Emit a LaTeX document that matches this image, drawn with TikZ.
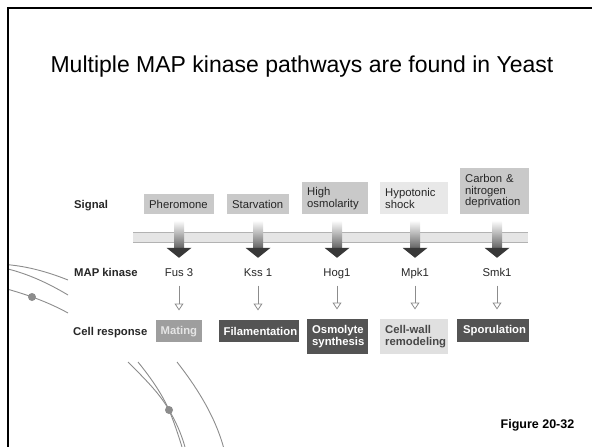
\documentclass[tikz,border=0pt]{standalone}
\usepackage{fontspec}
\setmainfont{Liberation Sans}
\usetikzlibrary{arrows.meta}

\definecolor{txt}{gray}{0.15}
\definecolor{sigfill}{gray}{0.79}
\definecolor{hypfill}{gray}{0.91}
\definecolor{matfill}{gray}{0.62}
\definecolor{mattxt}{gray}{0.90}
\definecolor{darkfill}{gray}{0.33}
\definecolor{wallfill}{gray}{0.88}
\definecolor{walltxt}{gray}{0.28}
\definecolor{bandfill}{gray}{0.90}
\definecolor{bandline}{gray}{0.70}
\definecolor{shaftdark}{gray}{0.40}
\definecolor{headfill}{gray}{0.22}
\definecolor{thinarrow}{gray}{0.55}
\definecolor{arcgray}{gray}{0.55}

\newcommand\dgfont{\fontsize{11.3}{11.8}\selectfont}
\newcommand\dgbold{\fontsize{11.3}{11.8}\selectfont\bfseries}

\begin{document}
\begin{tikzpicture}[x=1pt,y=-1pt,
  box/.style={anchor=north west, inner xsep=5pt, inner ysep=0pt, align=left},
  sig/.style={box, fill=sigfill, text=txt, font=\dgfont},
  sighi/.style={box, fill=hypfill, text=txt, font=\dgfont},
  respmid/.style={box, fill=matfill, text=mattxt, font=\dgbold},
  respdark/.style={box, fill=darkfill, text=white, font=\dgbold},
  resplight/.style={box, fill=wallfill, text=walltxt, font=\dgbold},
  kin/.style={anchor=base, inner sep=0pt, text height=8pt, text depth=2.5pt, text=txt, font=\dgfont},
  rowlabel/.style={anchor=base west, inner sep=0pt, text=txt, font=\dgbold},
  shaft/.style={top color=white, bottom color=shaftdark},
  head/.style={fill=headfill},
  thin arrow/.style={draw=thinarrow, line width=0.8pt,
    -{Triangle[open, length=7pt, width=9pt]}},
  arc/.style={draw=arcgray, line width=0.9pt},
  dot/.style={circle, fill=arcgray, inner sep=0pt, minimum size=8pt}
]
\useasboundingbox (0,0) rectangle (592,447);

% decorative arcs of the slide background
\draw[arc] (8,264.7) .. controls (28,266.5) and (48,272) .. (68,280);
\draw[arc] (8,269) .. controls (28,274) and (48,283) .. (68,295);
\draw[arc] (8,289.3) .. controls (28,295) and (48,302) .. (68,313);
\node[dot] (dotleft) at (32,297) {};
\draw[arc] (128,362) .. controls (146,380) and (160,394) .. (169,410)
                     .. controls (176,422) and (181,433) .. (185,447);
\draw[arc] (138,362) .. controls (151,378) and (162,394) .. (169,410)
                     .. controls (174,422) and (178,434) .. (182,447);
\draw[arc] (177,362) .. controls (195,385) and (215,415) .. (224,449);
\node[dot] (dotlow) at (169,410) {};

% slide frame
\draw[line width=2.5pt, line join=miter] (8,452) -- (8,8) -- (597,8);

% title
\node[anchor=base, inner sep=0pt, font=\fontsize{23}{27}\selectfont] (title) at (302,72)
  {Multiple MAP kinase pathways are found in Yeast};

% row labels
\node[rowlabel] (lsignal) at (74,208) {Signal};
\node[rowlabel] (lkinase) at (74,276) {MAP kinase};
\node[rowlabel] (lresp) at (73,335) {Cell response};

% membrane band: light fill between two grey edges
\fill[bandfill] (133,232) rectangle (528,242);
\draw[bandline, line width=1pt] (133,232) -- (528,232) (133,242) -- (528,242);

% signals
\node[sig, text width=60pt, minimum height=20pt] (pher) at (144,194) {Pheromone};
\node[sig, text width=52pt, minimum height=20pt] (starv) at (227,194) {Starvation};
\node[sig, text width=56pt, minimum height=32pt] (osm) at (302,182) {High\\osmolarity};
\node[sighi, text width=58pt, minimum height=32pt] (hyp) at (380,182) {Hypotonic\\shock};
\node[sig, text width=59pt, minimum height=46pt] (carb) at (460,168) {Carbon \&\\nitrogen\\deprivation};

% MAP kinases
\node[kin] (fus) at (179,276) {Fus 3};
\node[kin] (kss) at (258,276) {Kss 1};
\node[kin] (hog) at (337,276) {Hog1};
\node[kin] (mpk) at (415,276) {Mpk1};
\node[kin] (smk) at (497,276) {Smk1};

% cell responses
\node[respmid, inner xsep=4.5pt, text width=37pt, minimum height=22pt] (mat) at (156,320) {Mating};
\node[respdark, inner xsep=4.5pt, text width=71pt, minimum height=22pt] (fil) at (219,320) {Filamentation};
\node[respdark, text width=51pt, minimum height=35pt] (osy) at (307,319) {Osmolyte\\synthesis};
\node[resplight, text width=58pt, minimum height=35pt] (cwr) at (380,319) {Cell-wall\\remodeling};
\node[respdark, inner xsep=6pt, text width=60pt, minimum height=23pt] (spo) at (457,319) {Sporulation};

% signal -> kinase -> response
\foreach \s/\k/\r in {pher/fus/mat, starv/kss/fil, osm/hog/osy, hyp/mpk/cwr, carb/smk/spo} {
  \coordinate (top\k) at (\k |- \s.south);
  \coordinate (end\k) at (\k |- \r.north);
  \shade[shaft] ([xshift=-5pt,yshift=-6pt]top\k) rectangle ([xshift=5pt,yshift=20pt]\k.north);
  \fill[head] ([xshift=-12.5pt,yshift=20pt]\k.north) -- ([xshift=12.5pt,yshift=20pt]\k.north)
              -- ([yshift=10pt]\k.north) -- cycle;
  \draw[thin arrow] ([yshift=-7pt]\k.south) -- ([yshift=9.5pt]end\k);
}

% figure number
\node[anchor=base, inner sep=0pt, font=\fontsize{12.5}{15}\selectfont\bfseries] (fignum) at (537.5,428) {Figure 20-32};
\end{tikzpicture}
\end{document}
